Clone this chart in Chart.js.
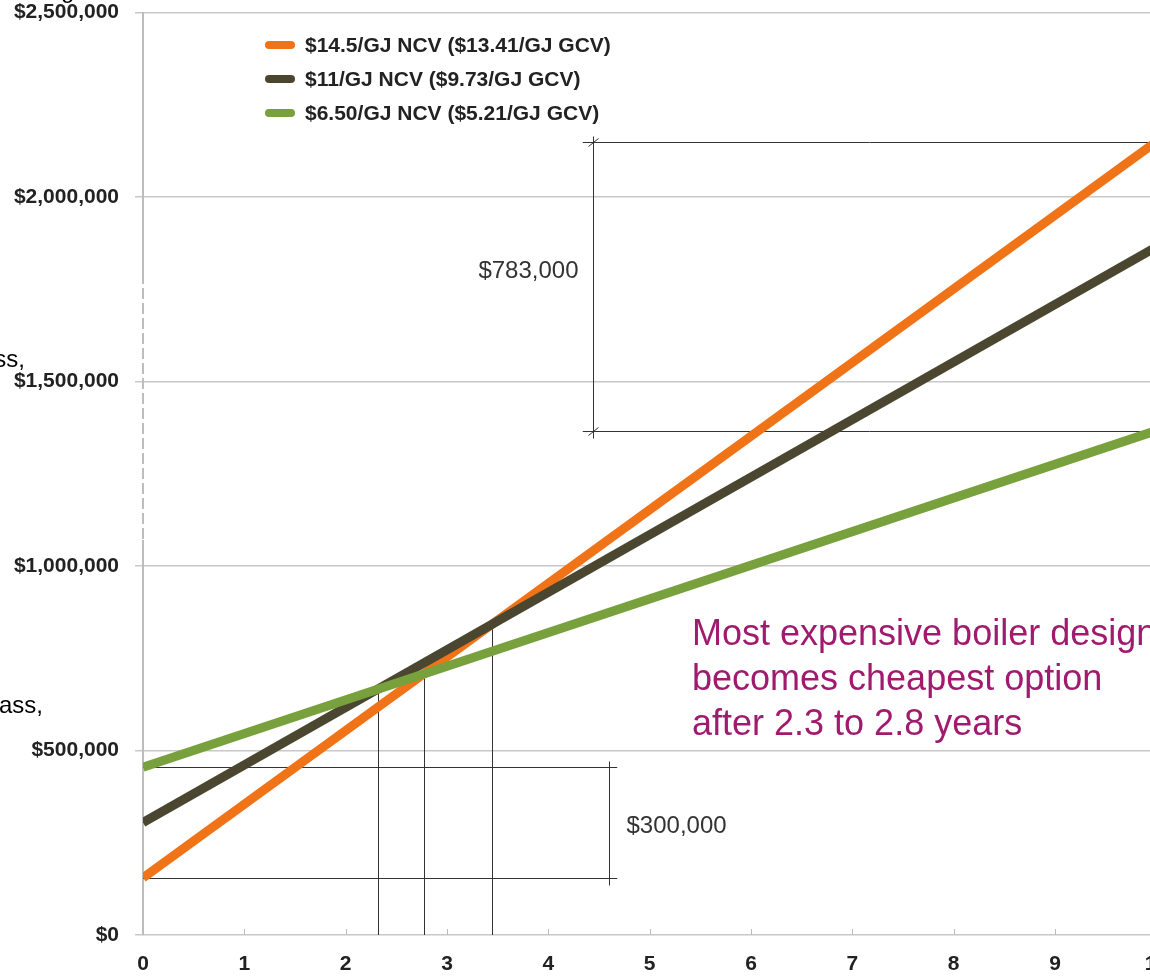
<!DOCTYPE html>
<html>
<head>
<meta charset="utf-8">
<script src="https://cdn.jsdelivr.net/npm/chart.js@4.4.1/dist/chart.umd.min.js"></script>
<style>
  body { margin: 0; background: #fff; overflow: hidden; }
  #wrap { position: relative; width: 1150px; height: 976px; overflow: hidden; font-family: "Liberation Sans", Arial, sans-serif; }
  #costChart { position: absolute; left: 0; top: -16px; }
  .side { position: absolute; font-size: 24px; line-height: 24px; color: #000; white-space: nowrap; }
  #note { position: absolute; left: 692px; top: 610px; font-size: 36px; line-height: 45px; color: #a01a6e; white-space: nowrap; }
</style>
</head>
<body>
<div id="wrap">
  <canvas id="costChart" width="1177" height="992"></canvas>
  <div class="side" style="left:61px; top:-22px;">g</div>
  <div class="side" style="right:1125px; top:347px;">ss,</div>
  <div class="side" style="right:1107px; top:693px;">ass,</div>
  <div id="note">Most expensive boiler design<br>becomes cheapest option<br>after 2.3 to 2.8 years</div>
</div>
<script>
// cumulative cost over time for three fuel prices
const years = [0, 10];
const costHigh = [155000, 2150000];  // $14.5/GJ
const costMid = [305000, 1865000];   // $11/GJ
const costLow = [455000, 1367000];   // $6.50/GJ

const seriesLabels = [
    "$14.5/GJ NCV ($13.41/GJ GCV)",
    "$11/GJ NCV ($9.73/GJ GCV)",
    "$6.50/GJ NCV ($5.21/GJ GCV)"
];
const seriesColors = ["#f07318", "#4a4630", "#78a03c"];

const xTicks = [0, 1, 2, 3, 4, 5, 6, 7, 8, 9, 10];
const yTicks = [0, 500000, 1000000, 1500000, 2000000, 2500000];

const FONT = "'Liberation Sans', Arial, sans-serif";
const series = [costHigh, costMid, costLow];

function toPoints(values) {
    return years.map((x, i) => ({ x: x, y: values[i] }));
}

function money(v) {
    return "$" + v.toLocaleString("en-US");
}

// where two straight cost lines cross
function crossing(a, b) {
    const span = years[1] - years[0];
    const slopeA = (a[1] - a[0]) / span;
    const slopeB = (b[1] - b[0]) / span;
    const x = years[0] + (b[0] - a[0]) / (slopeA - slopeB);
    return { x: x, y: a[0] + slopeA * (x - years[0]) };
}

const annotations = {
    id: "annotations",
    beforeDatasetsDraw(chart) {
        const ctx = chart.ctx;
        const xs = chart.scales.x;
        const ys = chart.scales.y;
        const area = chart.chartArea;
        ctx.save();

        // broken stretch of the value axis
        ctx.strokeStyle = "#fff";
        ctx.lineWidth = 3;
        ctx.setLineDash([4, 11]);
        ctx.beginPath();
        ctx.moveTo(area.left, 300);
        ctx.lineTo(area.left, 556);
        ctx.stroke();
        ctx.setLineDash([]);

        ctx.strokeStyle = "#333";
        ctx.lineWidth = 1;

        // drop lines under each crossing
        [[costMid, costLow], [costHigh, costLow], [costHigh, costMid]].forEach(pair => {
            const p = crossing(pair[0], pair[1]);
            const px = Math.round(xs.getPixelForValue(p.x)) + 0.5;
            ctx.beginPath();
            ctx.moveTo(px, ys.getPixelForValue(0));
            ctx.lineTo(px, ys.getPixelForValue(p.y));
            ctx.stroke();
        });

        const last = years.length - 1;
        ctx.font = "24px " + FONT;
        ctx.fillStyle = "#333";
        ctx.textBaseline = "middle";

        // gap at year 10
        const topA = Math.round(ys.getPixelForValue(costHigh[last])) + 0.5;
        const topB = Math.round(ys.getPixelForValue(costLow[last])) + 0.5;
        const vTop = Math.round(xs.getPixelForValue(4.44)) + 0.5;
        ctx.beginPath();
        ctx.moveTo(xs.getPixelForValue(4.34), topA);
        ctx.lineTo(area.right, topA);
        ctx.moveTo(xs.getPixelForValue(4.34), topB);
        ctx.lineTo(area.right, topB);
        ctx.moveTo(vTop, topA - 6);
        ctx.lineTo(vTop, topB + 7);
        ctx.moveTo(vTop - 5, topA + 4);
        ctx.lineTo(vTop + 5, topA - 4);
        ctx.moveTo(vTop - 5, topB + 4);
        ctx.lineTo(vTop + 5, topB - 4);
        ctx.stroke();
        ctx.textAlign = "right";
        ctx.fillText(money(costHigh[last] - costLow[last]), vTop - 15, (topA + topB) / 2 - 16);

        // gap at year 0
        const lowA = Math.round(ys.getPixelForValue(costLow[0])) + 0.5;
        const lowB = Math.round(ys.getPixelForValue(costHigh[0])) + 0.5;
        const vLow = Math.round(xs.getPixelForValue(4.6)) + 0.5;
        ctx.beginPath();
        ctx.moveTo(area.left, lowA);
        ctx.lineTo(xs.getPixelForValue(4.68), lowA);
        ctx.moveTo(area.left, lowB);
        ctx.lineTo(xs.getPixelForValue(4.68), lowB);
        ctx.moveTo(vLow, lowA - 6);
        ctx.lineTo(vLow, lowB + 7);
        ctx.stroke();
        ctx.textAlign = "left";
        ctx.fillText(money(costLow[0] - costHigh[0]), vLow + 17, (lowA + lowB) / 2 + 3);

        // small inward ticks on the year axis
        ctx.strokeStyle = "#bbb";
        ctx.beginPath();
        xTicks.forEach(t => {
            const px = Math.round(xs.getPixelForValue(t)) + 0.5;
            ctx.moveTo(px, area.bottom);
            ctx.lineTo(px, area.bottom - 6);
        });
        ctx.stroke();
        ctx.restore();
    },
    afterDraw(chart) {
        // legend in the top left of the plot
        const ctx = chart.ctx;
        ctx.save();
        ctx.font = "bold 21px " + FONT;
        ctx.textBaseline = "middle";
        ctx.textAlign = "left";
        chart.data.datasets.forEach((ds, i) => {
            const y = 61 + i * 34;
            ctx.strokeStyle = ds.borderColor;
            ctx.lineWidth = 8;
            ctx.lineCap = "round";
            ctx.beginPath();
            ctx.moveTo(269, y);
            ctx.lineTo(291, y);
            ctx.stroke();
            ctx.fillStyle = "#222";
            ctx.fillText(ds.label, 305, y + 1);
        });
        ctx.restore();
    }
};

new Chart(document.getElementById("costChart"), {
    type: "line",
    data: {
        datasets: series.map((values, i) => ({
            label: seriesLabels[i],
            data: toPoints(values),
            borderColor: seriesColors[i],
            borderWidth: 9,
            pointRadius: 0,
            fill: false,
            clip: 0,
            order: 3 - i
        }))
    },
    options: {
        responsive: false,
        animation: false,
        devicePixelRatio: 1,
        layout: { padding: 0 },
        plugins: {
            legend: { display: false },
            tooltip: { enabled: false }
        },
        scales: {
            x: {
                type: "linear",
                min: 0,
                max: 10,
                afterBuildTicks: scale => { scale.ticks = xTicks.map(v => ({ value: v })); },
                afterFit: scale => { scale.height = 41; },
                grid: { display: false },
                border: { display: false },
                ticks: {
                    padding: 9,
                    color: "#222",
                    font: { family: FONT, size: 21, weight: "bold" }
                }
            },
            y: {
                min: 0,
                max: 2500000,
                afterBuildTicks: scale => { scale.ticks = yTicks.map(v => ({ value: v })); },
                afterFit: scale => { scale.width = 143; },
                grid: { color: "#c8c8c8", lineWidth: 1.5, tickLength: 8 },
                border: { display: true, color: "#bdbdbd", width: 2 },
                ticks: {
                    padding: 16,
                    color: "#222",
                    font: { family: FONT, size: 21, weight: "bold" },
                    callback: v => money(v)
                }
            }
        }
    },
    plugins: [annotations]
});
</script>
</body>
</html>
